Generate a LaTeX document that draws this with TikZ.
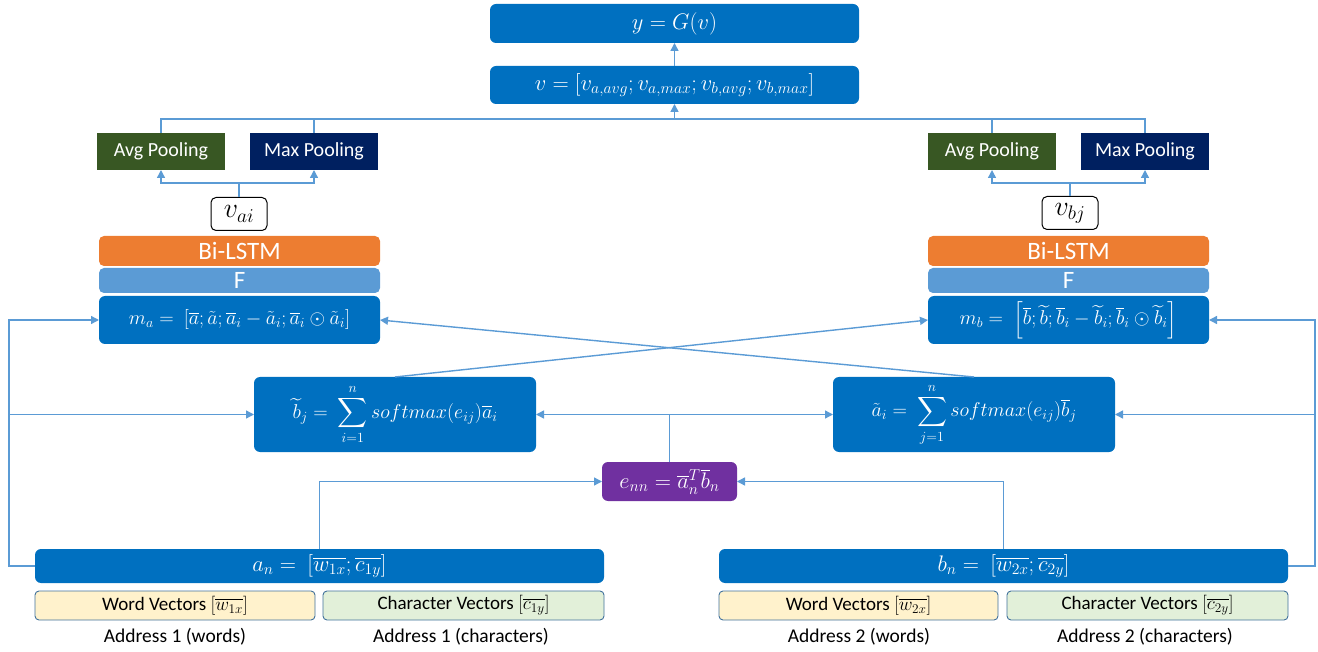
\RequirePackage{fix-cm}
\documentclass[tikz,border=0pt]{standalone}
\usepackage{amsmath}
\usepackage{fontspec}
\setmainfont{Carlito}
\usetikzlibrary{arrows.meta}
\definecolor{mblue}{HTML}{0070C0}
\definecolor{lblue}{HTML}{5B9BD5}
\definecolor{orng}{HTML}{ED7D31}
\definecolor{dgreen}{HTML}{385723}
\definecolor{navy}{HTML}{002060}
\definecolor{purp}{HTML}{7030A0}
\definecolor{wfill}{HTML}{FFF2CC}
\definecolor{cfill}{HTML}{E2F0D9}
\definecolor{bord}{HTML}{41719C}
\begin{document}
\begin{tikzpicture}[x=1pt,y=-1pt,
  base/.style={inner sep=0pt, outer sep=0pt, text=white, font=\fontsize{20}{24}\selectfont},
  big/.style={font=\fontsize{22.5}{26}\selectfont},
  mbox/.style={base, fill=mblue, rounded corners=6pt},
  pool/.style={base, minimum width=128pt, minimum height=37pt},
  layer/.style={base, rounded corners=5pt, minimum width=281pt, font=\fontsize{25}{28}\selectfont},
  vbox/.style={inner sep=0pt, draw=black, line width=1pt, fill=white, rounded corners=5pt, minimum width=56pt, minimum height=33pt, font=\fontsize{28}{30}\selectfont},
  vec/.style={inner sep=0pt, draw=bord, line width=0.9pt, rounded corners=4pt, minimum height=29pt, font=\fontsize{19}{22}\selectfont},
  lab/.style={inner sep=0pt, font=\fontsize{19.5}{22}\selectfont},
  conn/.style={draw=lblue, line width=1.4pt},
  arr/.style={conn, -{Triangle[length=8pt,width=8pt]}}
]
\useasboundingbox (0,0) rectangle (1318,652);
% top
\node[mbox, big, minimum width=369pt, minimum height=39pt] (y) at (674.5,23.5) {$y = G(v)$};
\node[mbox, big, minimum width=369pt, minimum height=38pt] (v) at (674.5,85) {$v = \left[v_{a,avg}; v_{a,max}; v_{b,avg}; v_{b,max}\right]$};
% pooling
\node[pool, fill=dgreen] (avgA) at (161,151.5) {Avg Pooling};
\node[pool, fill=navy] (maxA) at (314,151.5) {Max Pooling};
\node[pool, fill=dgreen] (avgB) at (992,151.5) {Avg Pooling};
\node[pool, fill=navy] (maxB) at (1145,151.5) {Max Pooling};
% v boxes
\node[vbox] (vai) at (239,214) {$v_{ai}$};
\node[vbox] (vbj) at (1070,213) {$v_{bj}$};
% layers left
\node[layer, fill=orng, minimum height=30pt] (lstmA) at (239.5,251) {Bi-LSTM};
\node[layer, fill=lblue, minimum height=25pt] (FA) at (239.5,280.5) {F};
\node[mbox, minimum width=281pt, minimum height=48pt] (mA) at (239.5,320) {$m_a =\ [\overline{a};\tilde{a};\overline{a}_i-\tilde{a}_i;\overline{a}_i\odot\tilde{a}_i]$};
% layers right
\node[layer, fill=orng, minimum height=30pt] (lstmB) at (1068.5,251) {Bi-LSTM};
\node[layer, fill=lblue, minimum height=25pt] (FB) at (1068.5,280.5) {F};
\node[mbox, minimum width=281pt, minimum height=48pt] (mB) at (1068.5,320) {$m_b =\ \left[\overline{b};\widetilde{b};\overline{b}_i-\widetilde{b}_i;\overline{b}_i\odot\widetilde{b}_i\right]$};
% attention
\node[mbox, minimum width=282pt, minimum height=75pt] (bt) at (395,414.5) {$\displaystyle \widetilde{b}_j =\ \sum_{i=1}^{n} softmax(e_{ij})\overline{a}_i$};
\node[mbox, minimum width=282pt, minimum height=75pt] (at) at (974,414.5) {$\displaystyle \tilde{a}_i =\ \sum_{j=1}^{n} softmax(e_{ij})\overline{b}_j$};
\node[base, big, fill=purp, rounded corners=6pt, minimum width=135pt, minimum height=39pt] (enn) at (669.5,481.5) {$e_{nn} = \overline{a}_n^{T}\overline{b}_n$};
% inputs
\node[mbox, big, minimum width=569pt, minimum height=34pt] (an) at (319.5,566) {$a_n =\ \left[\overline{w_{1x}};\overline{c_{1y}}\right]$};
\node[mbox, big, minimum width=569pt, minimum height=34pt] (bn) at (1003.5,566) {$b_n =\ \left[\overline{w_{2x}};\overline{c_{2y}}\right]$};
\node[vec, fill=wfill, minimum width=280pt] (wvA) at (175,605.5) {Word Vectors $\left[\overline{w_{1x}}\right]$};
\node[vec, fill=cfill, minimum width=281pt] (cvA) at (463.5,605.5) {Character Vectors $\left[\overline{c_{1y}}\right]$};
\node[vec, fill=wfill, minimum width=279pt] (wvB) at (858.5,605.5) {Word Vectors $\left[\overline{w_{2x}}\right]$};
\node[vec, fill=cfill, minimum width=281pt] (cvB) at (1147.5,605.5) {Character Vectors $\left[\overline{c_{2y}}\right]$};
\node[lab] (adA1) at (175,637) {Address 1 (words)};
\node[lab] (adA2) at (461,637) {Address 1 (characters)};
\node[lab] (adB1) at (859,637) {Address 2 (words)};
\node[lab] (adB2) at (1145,637) {Address 2 (characters)};
% coordinates
\coordinate (merge) at (674.5,119);
\coordinate (splitA) at (239,183);
\coordinate (splitB) at (1070,183);
\coordinate (lx) at (9,0);
\coordinate (rx) at (1315,0);
\coordinate (ej) at (669.5,414.5);
% connectors top
\draw[arr] (v.north) -- (y.south);
\draw[conn] (avgA.north) |- (merge) -| (maxB.north);
\draw[conn] (maxA.north) -- (maxA.north |- merge);
\draw[conn] (avgB.north) -- (avgB.north |- merge);
\draw[arr] (merge) -- (v.south);
\draw[conn] (vai.north) -- (splitA);
\draw[arr] (splitA) -| (avgA.south);
\draw[arr] (splitA) -| (maxA.south);
\draw[conn] (vbj.north) -- (splitB);
\draw[arr] (splitB) -| (avgB.south);
\draw[arr] (splitB) -| (maxB.south);
% side loops
\draw[arr] (an.west) -- (an.west -| lx) -- (lx |- mA.west) -- (mA.west);
\draw[arr] (lx |- bt.west) -- (bt.west);
\draw[arr] (bn.east) -- (bn.east -| rx) -- (rx |- mB.east) -- (mB.east);
\draw[arr] (rx |- at.east) -- (at.east);
% e_nn
\draw[arr] (an.north) |- (enn.west);
\draw[arr] (bn.north) |- (enn.east);
\draw[conn] (enn.north) -- (ej);
\draw[arr] (ej) -- (bt.east);
\draw[arr] (ej) -- (at.west);
% crossing
\draw[arr] (bt.north) -- (mB.west);
\draw[arr] (at.north) -- (mA.east);
\end{tikzpicture}
\end{document}
